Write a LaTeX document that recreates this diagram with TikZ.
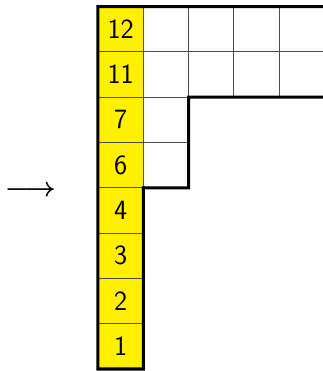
\documentclass[tikz,border=0pt]{standalone}
\usepackage{amsmath}
\usepackage{xcolor}
\usetikzlibrary{positioning}
\definecolor{cellyellow}{RGB}{255,240,0}
\tikzset{
  cellbox/.style={draw=gray!60!black, line width=0.6pt, minimum size=1cm, inner sep=0pt, outer sep=0pt},
  ycell/.style={cellbox, fill=cellyellow},
  wcell/.style={cellbox, fill=white},
  outline/.style={line width=1.9pt, line cap=rect, line join=miter},
}
\begin{document}
\begin{tikzpicture}[font=\sffamily\fontsize{17.5}{20}\selectfont]
  \clip (-2.163,-0.044) rectangle (4.967,8.146);

  % yellow column
  \foreach \r/\lab in {0/1,1/2,2/3,3/4,4/6,5/7,6/11,7/12}
    \node[ycell] (y\lab) at (0.5,\r+0.5) {\lab};

  % white cells
  \node[wcell] (w6) at (1.5,4.5) {};
  \node[wcell] (w7) at (1.5,5.5) {};
  \foreach \c in {1,...,5} {
    \node[wcell] (wa\c) at (\c+0.5,6.5) {};
    \node[wcell] (wb\c) at (\c+0.5,7.5) {};
  }

  \coordinate (topend) at (6.2,8);
  \coordinate (midend) at (6.2,6);

  % thick outline
  \draw[outline] (y4.north east) -- (y1.south east) -- (y1.south west)
    -- (y12.north west) -- (topend);
  \draw[outline] (y4.north east) -- (w6.south east) -- (w7.north east) -- (midend);

  \node (arr) at (-1.49,3.92) {$\boldsymbol{\longrightarrow}$};
\end{tikzpicture}
\end{document}
